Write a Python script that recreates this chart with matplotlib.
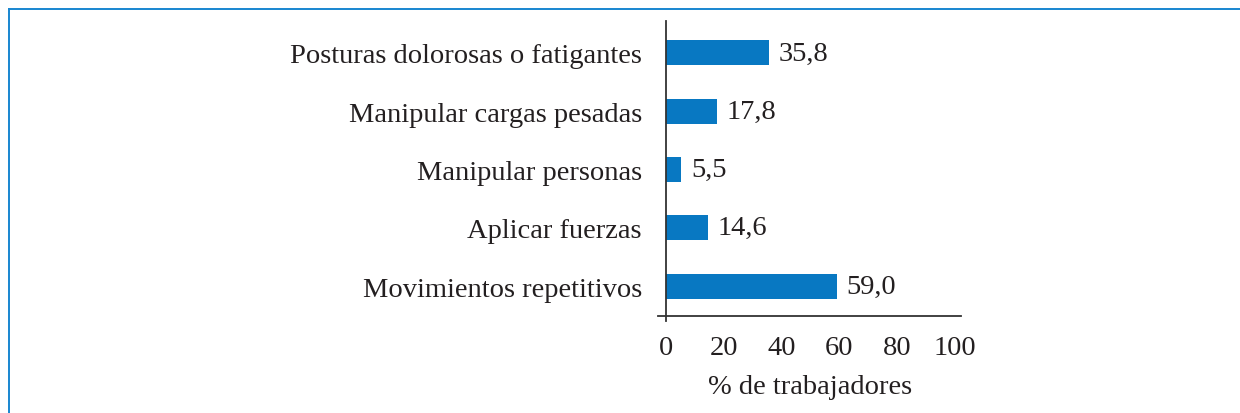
import matplotlib.pyplot as plt
from matplotlib.lines import Line2D

# data (bottom to top)
categories = ['Movimientos repetitivos', 'Aplicar fuerzas', 'Manipular personas',
              'Manipular cargas pesadas', 'Posturas dolorosas o fatigantes']
values = [59.0, 14.6, 5.5, 17.8, 35.8]
xticks = [0, 20, 40, 60, 80, 100]

plt.rcParams['font.family'] = ['Liberation Serif', 'DejaVu Serif']
text_color = '#231f20'
bar_color = '#0878c2'
frame_color = '#1886d0'
fs = 20.5

fig = plt.figure(figsize=(12.4, 4.14), dpi=100)
ax = fig.add_axes([0.5309, 0.2222, 0.2442, 0.7235])

pos = list(range(len(categories)))
ax.barh(pos, values, height=0.43, color=bar_color)

for p, v in zip(pos, values):
    ax.annotate(f'{v:.1f}'.replace('.', ','), (v, p), xytext=(7, 0),
                textcoords='offset points', va='center', ha='left',
                fontsize=fs, color=text_color)

ax.set_xlim(-2.5, 102)
ax.set_ylim(-0.60, 4.54)

ax.spines['top'].set_visible(False)
ax.spines['right'].set_visible(False)
ax.spines['left'].set_position(('data', 0))
ax.spines['bottom'].set_position(('data', -0.507))
for s in ('left', 'bottom'):
    ax.spines[s].set_color('#333333')
    ax.spines[s].set_linewidth(1.3)

ax.set_yticks(pos)
ax.set_yticklabels(categories)
ax.set_xticks(xticks)
ax.set_xticklabels([str(t) for t in xticks])
ax.tick_params(axis='both', length=0, labelsize=fs, colors=text_color)
ax.tick_params(axis='y', pad=17)
ax.tick_params(axis='x', pad=14)
ax.set_xlabel('% de trabajadores', fontsize=fs, color=text_color, labelpad=10)

# light blue frame (top and left only)
fig.add_artist(Line2D([9 / 1240, 1], [1 - 10 / 414, 1 - 10 / 414],
                      transform=fig.transFigure, color=frame_color, lw=1.4))
fig.add_artist(Line2D([9 / 1240, 9 / 1240], [0, 1 - 10 / 414],
                      transform=fig.transFigure, color=frame_color, lw=1.4))

fig.savefig('out.png', dpi=100)
